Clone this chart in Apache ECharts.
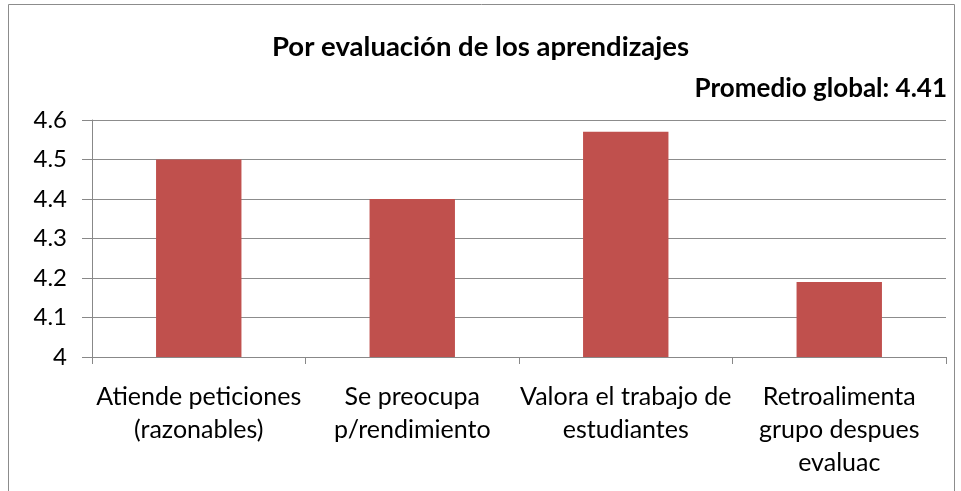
<!DOCTYPE html>
<html>
<head>
<meta charset="utf-8">
<script src="https://cdn.jsdelivr.net/npm/echarts@6/dist/echarts.min.js"></script>
<style>
  html, body { margin: 0; padding: 0; background: #fff; }
  #chart { width: 961px; height: 491px; }
</style>
</head>
<body>
<div id="chart"></div>
<script>
// datos
const categories = [
  'Atiende peticiones\n(razonables)',
  'Se preocupa\np/rendimiento',
  'Valora el trabajo de\nestudiantes',
  'Retroalimenta\ngrupo despues\nevaluac'
];
const values = [4.5, 4.4, 4.57, 4.19];
const titleText = 'Por evaluación de los aprendizajes';
const subtitleText = 'Promedio global: 4.41';

const font = 'Lato, "Open Sans", sans-serif';

const chart = echarts.init(document.getElementById('chart'));

chart.setOption({
  backgroundColor: '#fff',
  animation: false,
  graphic: [
    {
      type: 'rect',
      shape: { x: 8.5, y: 4.5, width: 946, height: 500 },
      style: { fill: 'none', stroke: '#8c8c8c', lineWidth: 1 },
      silent: true
    },
    {
      type: 'text',
      right: 14,
      top: 76,
      style: {
        text: subtitleText,
        font: 'bold 26px ' + font,
        fill: '#000'
      }
    }
  ],
  title: {
    text: titleText,
    left: 'center',
    top: 28,
    textStyle: {
      fontFamily: font,
      fontSize: 27.5,
      fontWeight: 'bold',
      color: '#000'
    }
  },
  grid: {
    left: 92,
    right: 15,
    top: 120,
    bottom: 134,
    containLabel: false
  },
  xAxis: {
    type: 'category',
    data: categories,
    axisLine: { lineStyle: { color: '#888', width: 1 } },
    axisTick: { show: true, alignWithLabel: false, length: 7, lineStyle: { color: '#888' } },
    axisLabel: {
      interval: 0,
      margin: 23,
      fontFamily: font,
      fontSize: 25,
      lineHeight: 33,
      color: '#000'
    }
  },
  yAxis: {
    type: 'value',
    min: 4,
    max: 4.6,
    interval: 0.1,
    axisLine: { show: true, lineStyle: { color: '#888', width: 1 } },
    axisTick: { show: true, length: 10, lineStyle: { color: '#888' } },
    axisLabel: {
      fontFamily: font,
      fontSize: 24,
      color: '#000',
      margin: 25,
      formatter: v => String(Math.round(v * 10) / 10)
    },
    splitLine: { lineStyle: { color: '#8c8c8c', width: 1 } }
  },
  series: [
    {
      type: 'bar',
      data: values,
      barWidth: '40%',
      itemStyle: { color: '#C0504D' }
    }
  ]
});
</script>
</body>
</html>
